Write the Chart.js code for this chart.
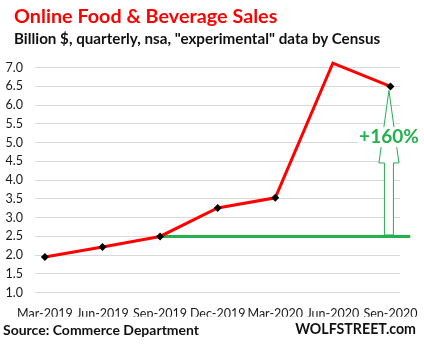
<!DOCTYPE html>
<html>
<head>
<meta charset="utf-8">
<script src="https://cdn.jsdelivr.net/npm/chart.js@4/dist/chart.umd.min.js"></script>
<style>
  html, body { margin: 0; padding: 0; background: #fff; }
  #wrap { position: relative; width: 424px; height: 348px; overflow: hidden; font-family: Lato, "Open Sans", sans-serif; }
  #c { position: absolute; left: 0; top: 0; }
  .txt { position: absolute; white-space: nowrap; font-weight: bold; }
  #title { left: 14px; top: 3px; font-size: 19.8px; color: #ff0000; }
  #sub { left: 14px; top: 29px; font-size: 15.2px; color: #111; }
  #src { left: 3px; top: 321px; font-size: 14px; color: #111; }
  #brand { right: 8px; top: 320px; font-size: 14.2px; color: #111; }
</style>
</head>
<body>
<div id="wrap">
  <canvas id="c" width="424" height="348"></canvas>
  <div class="txt" id="title">Online Food &amp; Beverage Sales</div>
  <div class="txt" id="sub">Billion $, quarterly, nsa, "experimental" data by Census</div>
  <div class="txt" id="src">Source: Commerce Department</div>
  <div class="txt" id="brand">WOLFSTREET.com</div>
</div>
<script>
// Quarterly online food & beverage sales, billion $
const quarters = ["Mar-2019", "Jun-2019", "Sep-2019", "Dec-2019", "Mar-2020", "Jun-2020", "Sep-2020"];
const sales = [1.95, 2.22, 2.5, 3.26, 3.53, 7.12, 6.5];
const yTicks = [1.0, 1.5, 2.0, 2.5, 3.0, 3.5, 4.0, 4.5, 5.0, 5.5, 6.0, 6.5, 7.0];
const baseIndex = 2;       // Sep-2019, reference level for the growth arrow
const peakIndex = 6;       // Sep-2020
const growthLabel = "+160%";

const GREEN = "#22b14c";

// Horizontal reference line and growth arrow
const annotations = {
  id: "annotations",
  beforeDatasetsDraw(chart) {
    const { ctx, chartArea, scales: { x, y } } = chart;
    const yBase = y.getPixelForValue(sales[baseIndex]);
    ctx.save();
    ctx.strokeStyle = GREEN;
    ctx.lineWidth = 3;
    ctx.beginPath();
    ctx.moveTo(x.getPixelForValue(baseIndex), yBase);
    ctx.lineTo(chartArea.right + 10, yBase);
    ctx.stroke();
    ctx.restore();
  },
  afterDatasetsDraw(chart) {
    const { ctx, scales: { x, y } } = chart;
    const cx = x.getPixelForValue(peakIndex) - 1.5;
    const yBase = y.getPixelForValue(sales[baseIndex]) - 1.5;
    const yTip = y.getPixelForValue(sales[peakIndex]) + 4;
    const yHead = y.getPixelForValue(4.46);
    const shaft = 4.5, head = 10;
    ctx.save();
    ctx.fillStyle = "#fff";
    ctx.strokeStyle = GREEN;
    ctx.lineWidth = 1;
    ctx.beginPath();
    ctx.moveTo(cx - shaft, yBase);
    ctx.lineTo(cx - shaft, yHead);
    ctx.lineTo(cx - head, yHead);
    ctx.lineTo(cx, yTip);
    ctx.lineTo(cx + head, yHead);
    ctx.lineTo(cx + shaft, yHead);
    ctx.lineTo(cx + shaft, yBase);
    ctx.closePath();
    ctx.fill();
    ctx.stroke();
    // label box over the arrow head
    ctx.font = "bold 19px Lato, 'Open Sans', sans-serif";
    ctx.textAlign = "center";
    ctx.textBaseline = "middle";
    const ty = y.getPixelForValue(5.15);
    const w = ctx.measureText(growthLabel).width;
    ctx.fillStyle = "#fff";
    ctx.fillRect(cx - w / 2 - 1, ty - 10, w + 2, 20);
    ctx.fillStyle = GREEN;
    ctx.fillText(growthLabel, cx, ty);
    ctx.restore();
  }
};

new Chart(document.getElementById("c"), {
  type: "line",
  data: {
    datasets: [{
      data: sales.map((v, i) => ({ x: i, y: v })),
      borderColor: "#ff0000",
      borderWidth: 3,
      pointStyle: "rectRot",
      pointRadius: 4,
      pointBackgroundColor: "#000",
      pointBorderColor: "#000",
      pointBorderWidth: 0,
      tension: 0,
      clip: false
    }]
  },
  options: {
    responsive: false,
    animation: false,
    events: [],
    layout: { padding: { left: 0, top: 67.7, right: 21, bottom: 31.3 } },
    plugins: { legend: { display: false }, tooltip: { enabled: false } },
    scales: {
      x: {
        type: "linear",
        min: -0.172,
        max: quarters.length - 1 + 0.172,
        afterFit(s) { s.height = 24; },
        afterBuildTicks(s) { s.ticks = quarters.map((q, i) => ({ value: i })); },
        ticks: {
          callback: (v) => quarters[v],
          color: "#1a1a1a",
          font: { family: "Lato, 'Open Sans', sans-serif", size: 12.5 },
          padding: 6,
          maxRotation: 0,
          autoSkip: false
        },
        grid: { display: false },
        border: { display: false }
      },
      y: {
        min: 1,
        max: 7,
        afterFit(s) { s.width = 35; },
        afterBuildTicks(s) { s.ticks = yTicks.map(v => ({ value: v })); },
        ticks: {
          callback: (v) => v.toFixed(1),
          color: "#1a1a1a",
          font: { family: "Lato, 'Open Sans', sans-serif", size: 12.5 },
          padding: 12
        },
        grid: { color: "#d9d9d9", lineWidth: 1, drawTicks: false },
        border: { display: false }
      }
    }
  },
  plugins: [annotations]
});
</script>
</body>
</html>
